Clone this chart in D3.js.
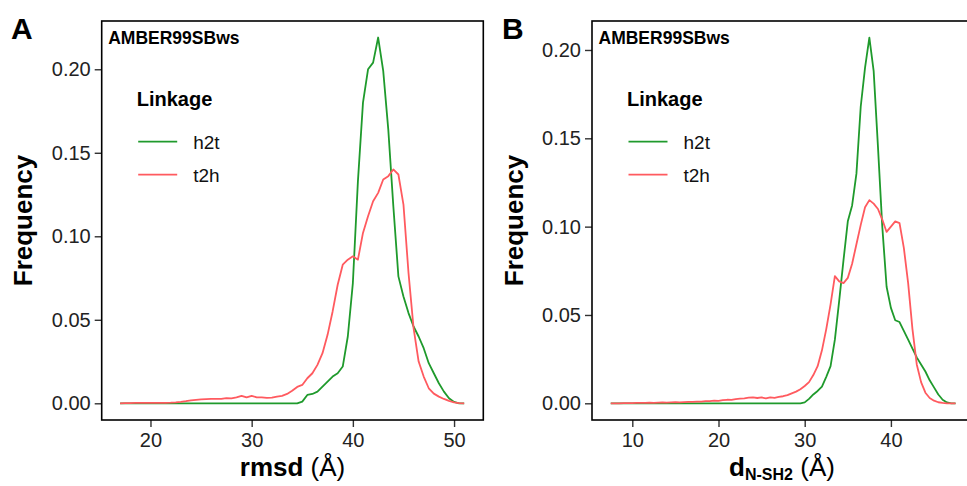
<!DOCTYPE html>
<html><head><meta charset="utf-8">
<script src="https://cdn.jsdelivr.net/npm/d3@7"></script>
<style>
body{margin:0;background:#fff}
svg{display:block}
text{font-family:"Liberation Sans",Arial,Helvetica,sans-serif}
</style>
</head><body>
<svg id="c" width="967" height="486"></svg>
<script>
// ---------- Data ----------
const panelLabels = ["A", "B"];
const forceField = "AMBER99SBws";
const seriesNames = ["h2t", "t2h"];
const seriesColors = ["#1f9a2c", "#ff5a5f"];

// Panel A: rmsd (Å)
const rmsdX = [17,17.5,18,18.5,19,19.5,20,20.5,21,21.5,
  22,22.5,23,23.5,24,24.5,25,25.5,26,26.5,
  27,27.5,28,28.5,29,29.5,30,30.5,31,31.5,
  32,32.5,33,33.5,34,34.5,35,35.5,36,36.5,
  37,37.5,38,38.5,39,39.5,40,40.5,41,41.5,
  42,42.5,43,43.5,44,44.5,45,45.5,46,46.5,
  47,47.5,48,48.5,49,49.5,50,50.5,51];
const rmsdH2t = [0,0,0,0,0,0,0,0,0,0,
  0,0,0,0,0,0,0,0,0,0,
  0,0,0,0,0,0,0,0,0,0,
  0,0,0,0,0,0,0.001,0.005,0.0056,0.007,
  0.010,0.013,0.016,0.018,0.022,0.040,0.072,0.133,0.180,0.200,
  0.204,0.219,0.199,0.164,0.118,0.076,0.064,0.054,0.046,0.040,
  0.033,0.024,0.018,0.012,0.007,0.003,0.0008,0,0];
const rmsdT2h = [0,0.0001,0.0001,0.0002,0.0002,0.0002,0.0002,0.0002,0.0003,0.0003,
  0.0004,0.0006,0.0009,0.0013,0.0018,0.0021,0.0024,0.0025,0.0026,0.0026,
  0.0027,0.0031,0.003,0.0036,0.0045,0.0035,0.0045,0.0036,0.0035,0.0032,
  0.0034,0.004,0.0045,0.0056,0.0075,0.0098,0.011,0.015,0.018,0.023,
  0.030,0.041,0.055,0.071,0.083,0.086,0.088,0.086,0.102,0.112,
  0.121,0.126,0.134,0.136,0.140,0.137,0.119,0.078,0.045,0.025,
  0.016,0.009,0.0058,0.004,0.0026,0.0014,0.0005,0.0001,0];

// Panel B: d N-SH2 (Å)
const dX = [7.5,8,8.5,9,9.5,10,10.5,11,11.5,12,
  12.5,13,13.5,14,14.5,15,15.5,16,16.5,17,
  17.5,18,18.5,19,19.5,20,20.5,21,21.5,22,
  22.5,23,23.5,24,24.5,25,25.5,26,26.5,27,
  27.5,28,28.5,29,29.5,30,30.5,31,31.5,32,
  32.5,33,33.5,34,34.5,35,35.5,36,36.5,37,
  37.5,38,38.5,39,39.5,40,40.5,41,41.5,42,
  42.5,43,43.5,44,44.5,45,45.5,46,46.5,47,
  47.5];
const dH2t = [0,0,0,0,0,0,0,0,0,0,
  0,0,0,0,0,0,0,0,0,0,
  0,0,0,0,0,0,0,0,0,0,
  0,0,0,0,0,0,0,0,0,0,
  0,0,0,0,0,0.0005,0.0025,0.005,0.007,0.0095,
  0.015,0.021,0.036,0.058,0.081,0.103,0.112,0.130,0.168,0.190,
  0.207,0.188,0.145,0.100,0.066,0.054,0.047,0.046,0.041,0.036,
  0.031,0.026,0.022,0.018,0.013,0.009,0.005,0.002,0.0005,0,
  0];
const dT2h = [0,0,0,0.0001,0.0001,0.0001,0.0002,0.0002,0.0003,0.0004,
  0.0003,0.0004,0.0005,0.0004,0.0005,0.0006,0.0005,0.0007,0.0008,0.0008,
  0.001,0.001,0.0012,0.0012,0.0015,0.0014,0.0018,0.002,0.0019,0.0024,
  0.0026,0.0028,0.0032,0.0034,0.003,0.0033,0.0028,0.0033,0.0031,0.0036,
  0.004,0.0046,0.0056,0.0066,0.008,0.0098,0.012,0.016,0.021,0.030,
  0.042,0.056,0.072,0.069,0.068,0.071,0.079,0.090,0.101,0.111,
  0.115,0.113,0.110,0.104,0.097,0.100,0.103,0.102,0.088,0.068,
  0.042,0.022,0.012,0.006,0.003,0.0015,0.0006,0.0002,0,0,
  0];

const yTicks = [0, 0.05, 0.10, 0.15, 0.20];
const rmsdTicks = [20, 30, 40, 50];
const dTicks = [10, 20, 30, 40];

// ---------- Drawing ----------
const svg = d3.select("#c");
const TOP = 21, BOTTOM = 420;

function panel(o) {
  const x = d3.scaleLinear().domain(o.xd).range([o.left, o.right]);
  const y = d3.scaleLinear().domain(o.yd).range([BOTTOM, TOP]);
  const g = svg.append("g");

  const line = d3.line().x(d => x(d[0])).y(d => y(d[1]));
  o.series.forEach((s, i) => {
    g.append("path")
      .datum(o.xs.map((v, k) => [v, s[k]]))
      .attr("d", line)
      .attr("fill", "none")
      .attr("stroke", seriesColors[i])
      .attr("stroke-width", 1.8)
      .attr("stroke-linejoin", "round");
  });

  const xa = g.append("g").attr("transform", `translate(0,${BOTTOM})`)
    .call(d3.axisBottom(x).tickValues(o.xt).tickSize(7).tickPadding(6).tickFormat(d3.format("d")));
  xa.select(".domain").remove();
  xa.selectAll(".tick line").attr("stroke", "#333").attr("stroke-width", 1.4);
  xa.selectAll(".tick text").attr("font-size", 20).attr("fill", "#222")
    .attr("font-family", '"Liberation Sans",Arial,sans-serif');

  const ya = g.append("g").attr("transform", `translate(${o.left},0)`)
    .call(d3.axisLeft(y).tickValues(yTicks).tickSize(7).tickPadding(4).tickFormat(d3.format(".2f")));
  ya.select(".domain").remove();
  ya.selectAll(".tick line").attr("stroke", "#333").attr("stroke-width", 1.4);
  ya.selectAll(".tick text").attr("font-size", 20).attr("fill", "#222")
    .attr("font-family", '"Liberation Sans",Arial,sans-serif');

  g.append("rect")
    .attr("x", o.left).attr("y", TOP)
    .attr("width", o.right - o.left).attr("height", BOTTOM - TOP)
    .attr("fill", "none").attr("stroke", "#000").attr("stroke-width", 1.6);

  g.append("text").attr("x", o.labelX).attr("y", 39)
    .attr("font-size", 30).attr("font-weight", "bold").text(o.label);

  g.append("text").attr("x", o.left + 6.5).attr("y", 43.5)
    .attr("font-size", 17.5).attr("font-weight", "bold").text(forceField);

  g.append("text").attr("x", o.left + 35).attr("y", 106)
    .attr("font-size", 20).attr("font-weight", "bold").text("Linkage");
  seriesNames.forEach((n, i) => {
    const yy = 141.7 + i * 33;
    g.append("line").attr("x1", o.left + 36.5).attr("x2", o.left + 75.5)
      .attr("y1", yy).attr("y2", yy)
      .attr("stroke", seriesColors[i]).attr("stroke-width", 1.8);
    g.append("text").attr("x", o.left + 91.5).attr("y", yy + 7)
      .attr("font-size", 19).attr("fill", "#111").text(n);
  });

  g.append("text")
    .attr("transform", `translate(${o.yTitleX},${(TOP + BOTTOM) / 2}) rotate(-90)`)
    .attr("text-anchor", "middle").attr("font-size", 26).attr("font-weight", "bold")
    .text("Frequency");

  const xt = g.append("text").attr("x", o.xTitleX).attr("y", 476)
    .attr("text-anchor", "middle").attr("font-size", 26);
  o.xTitle(xt);
}

panel({
  label: panelLabels[0], labelX: 11,
  left: 101.7, right: 483.3,
  xd: [15.18, 52.89], yd: [-0.0100, 0.2289],
  xs: rmsdX, series: [rmsdH2t, rmsdT2h], xt: rmsdTicks,
  yTitleX: 32, xTitleX: 292.5,
  xTitle: t => {
    t.append("tspan").attr("font-weight", "bold").text("rmsd");
    t.append("tspan").text(" (Å)");
  }
});

panel({
  label: panelLabels[1], labelX: 502,
  left: 592, right: 972.8,
  xd: [5.325, 49.5], yd: [-0.00945, 0.2164],
  xs: dX, series: [dH2t, dT2h], xt: dTicks,
  yTitleX: 523, xTitleX: 782,
  xTitle: t => {
    t.append("tspan").attr("font-weight", "bold").text("d");
    t.append("tspan").attr("font-weight", "bold").attr("font-size", 16).attr("dy", 4).text("N-SH2");
    t.append("tspan").attr("dy", -4).text(" (Å)");
  }
});
</script>
</body></html>
